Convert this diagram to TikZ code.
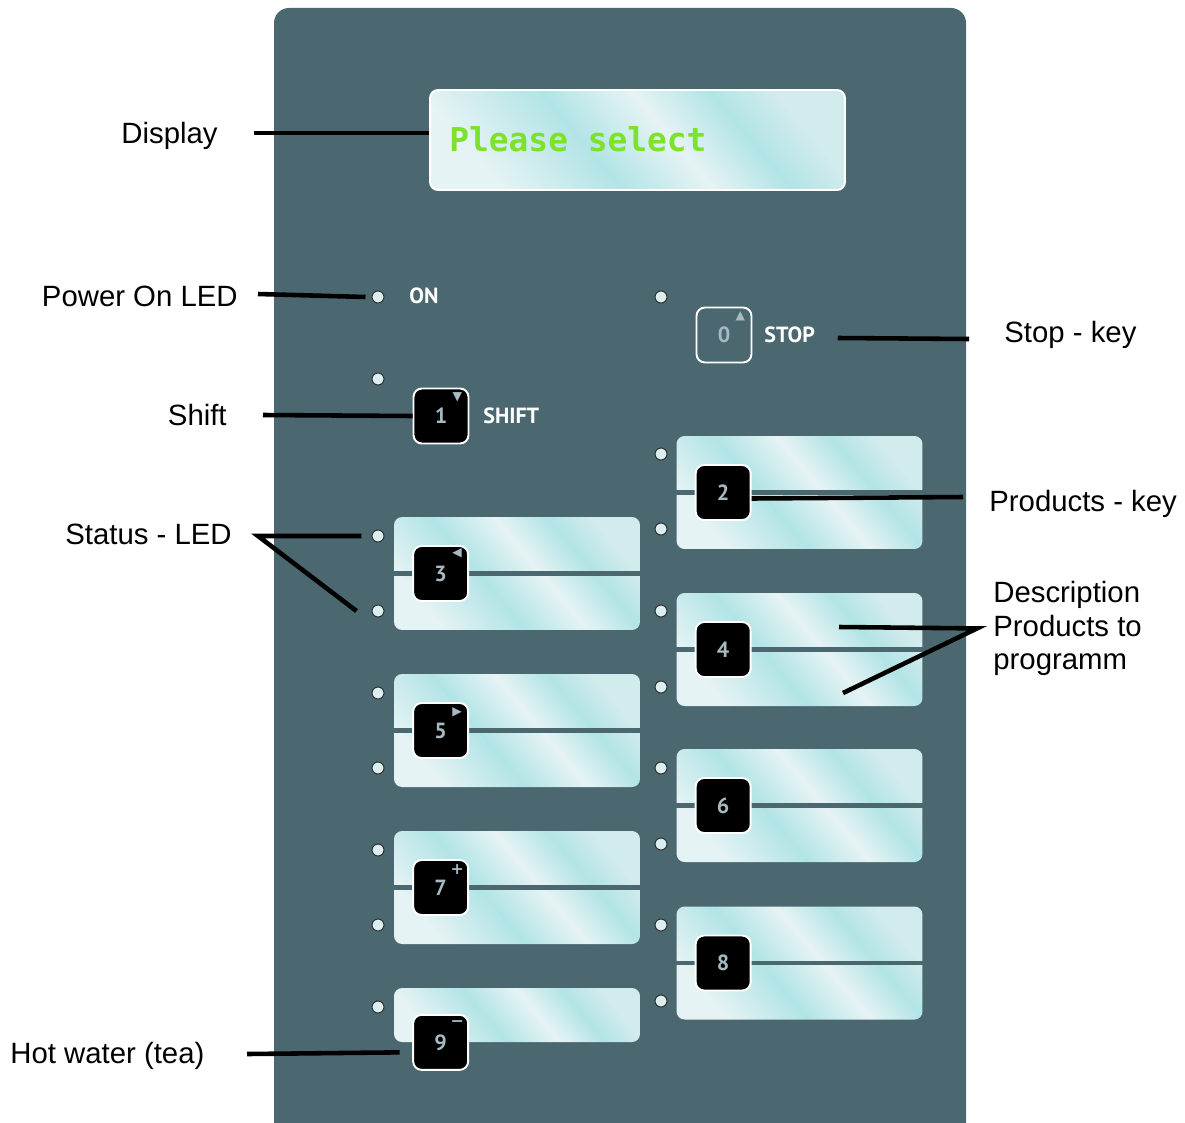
\documentclass[tikz,border=0pt]{standalone}
\usepackage{fontspec}
\setmainfont{Liberation Sans}
\newfontfamily\lcdfont{DejaVu Sans Mono}
\newfontfamily\keyfont{PT Sans}
\newfontfamily\symfont{DejaVu Sans}
\usetikzlibrary{positioning, calc}

\definecolor{panel}{HTML}{4B6870}
\definecolor{glassA}{HTML}{B2E4E6}
\definecolor{glassB}{HTML}{E6F3F4}
\definecolor{glassC}{HTML}{D2EBED}
\definecolor{lcdgreen}{HTML}{7DE22B}
\definecolor{keygrey}{HTML}{A7B9C1}
\definecolor{ledfill}{HTML}{DCEFF0}

\pgfdeclarehorizontalshading{glass}{100bp}{color(0bp)=(glassB); color(25bp)=(glassB);
  color(42bp)=(glassA); color(55bp)=(glassB); color(66bp)=(glassA);
  color(75bp)=(glassC); color(100bp)=(glassC)}

\begin{document}
\begin{tikzpicture}[x=0.02cm, y=-0.02cm,
  lbl/.style={font=\fontsize{16.7}{19}\selectfont, inner sep=0pt},
  leader/.style={line width=2.6pt, black},
  strip/.style={shade, shading=glass, shading angle=40, rounded corners=0.16cm,
                minimum width=4.92cm, minimum height=2.26cm, inner sep=0pt},
  divider/.style={line width=2.8pt, panel},
  key/.style={draw=white, line width=1.1pt, fill=black, rounded corners=0.17cm,
              minimum size=1.1cm, inner sep=0pt, text=keygrey,
              font=\keyfont\bfseries\fontsize{12.5}{12.5}\selectfont},
  keymark/.style={text=keygrey, font=\symfont\fontsize{7}{7}\selectfont, inner sep=0pt},
  led/.style={circle, draw=black!80, line width=0.6pt, fill=ledfill,
              minimum size=0.24cm, inner sep=0pt},
  tag/.style={text=white, font=\keyfont\bfseries\fontsize{12.5}{12.5}\selectfont, inner sep=0pt}
]
\useasboundingbox (0,0) rectangle (1185,1122);
\clip (0,0) rectangle (1185,1122);

% front panel and display
\fill[panel, rounded corners=0.3cm] (274,8) rectangle (966,1160);
\node[strip, draw=white, line width=1.1pt, minimum width=8.3cm, minimum height=2cm]
  (display) at (637.5,140) {};
\node[anchor=base west, inner sep=0pt, text=lcdgreen,
      font=\lcdfont\bfseries\fontsize{18.7}{18.7}\selectfont] (lcdtext) at (449,151) {Please select};

% leds
\foreach \y [count=\i] in {297,379,536,611,693,768,850,925,1007}
  \node[led] (ledL\i) at (378,\y) {};
\foreach \y [count=\i] in {297,454,529,611,687,768,844,925,1001}
  \node[led] (ledR\i) at (661,\y) {};

% product strips with their keys
\foreach \n/\y in {3/573.5,5/730.5,7/887.5}
  \node[strip] (strip\n) at (517,\y) {};
\node[strip, minimum height=1.08cm] (strip9) at (517,1015) {};
\foreach \n/\y in {2/492.5,4/649.5,6/805.5,8/963}
  \node[strip] (strip\n) at (799.5,\y) {};
\foreach \n in {2,...,8}
  \draw[divider] (strip\n.west) -- (strip\n.east);
\foreach \n in {2,...,8}
  \node[key] (key\n) at ([xshift=0.94cm]strip\n.west) {\n};
\node[key] (key9) at ([xshift=0.94cm]strip9.south west) {9};
\node[key] (key1) at (441,416) {1};
\node[key, fill=panel] (key0) at (724,335) {0};

% small marks on the keys
\node[keymark] at ([xshift=-0.24cm,yshift=-0.19cm]key0.north east) {▲};
\node[keymark] at ([xshift=-0.24cm,yshift=-0.2cm]key1.north east) {▼};
\node[keymark] at ([xshift=-0.24cm,yshift=-0.17cm]key3.north east) {◀};
\node[keymark] at ([xshift=-0.24cm,yshift=-0.2cm]key5.north east) {▶};
\node[keymark, font=\symfont\bfseries\fontsize{9}{9}\selectfont] at ([xshift=-0.24cm,yshift=-0.2cm]key7.north east) {+};
\node[keymark, font=\symfont\bfseries\fontsize{9}{9}\selectfont] at ([xshift=-0.24cm,yshift=-0.2cm]key9.north east) {−};

\node[tag, anchor=west] (ontag) at (409,296) {ON};
\node[tag, anchor=west] (shifttag) at (483,416) {SHIFT};
\node[tag, anchor=west] (stoptag) at (764,335) {STOP};

% labels
\node[lbl, anchor=base east] (lbldisplay) at (218,143) {Display};
\node[lbl, anchor=base east] (lblpower) at (238,306) {Power On LED};
\node[lbl, anchor=base east] (lblshift) at (227,425) {Shift};
\node[lbl, anchor=base east] (lblstatus) at (232,544) {Status - LED};
\node[lbl, anchor=base west] (lblwater) at (10,1063) {Hot water (tea)};
\node[lbl, anchor=base west] (lblstop) at (1004,342) {Stop - key};
\node[lbl, anchor=base west] (lblprod) at (989,511) {Products - key};
\node[lbl, anchor=north west, align=left] (lbldesc) at (993,581) {Description\\Products to\\programm};

% leader lines
\coordinate (dispfrom) at (254,133);
\coordinate (powfrom) at (258,294);
\coordinate (shiftfrom) at (263,415);
\coordinate (statfrom) at (258,536);
\coordinate (waterfrom) at (247,1054);
\coordinate (stopto) at (969,339);
\coordinate (prodto) at (963,497);
\coordinate (descfrom) at ([xshift=-0.32cm]lbldesc.west);
\coordinate (descA) at (839,627);
\coordinate (descB) at (843,693);

\draw[leader] (dispfrom) -- (dispfrom -| display.west);
\draw[leader] (powfrom) -- ([xshift=-0.12cm]ledL1.west);
\draw[leader] (shiftfrom) -- (key1.west);
\draw[leader] ([xshift=-0.2cm]ledL3.west) -- (statfrom) -- ([xshift=-0.3cm]ledL4.west);
\draw[leader] (waterfrom) -- ([xshift=-0.25cm,yshift=-0.2cm]key9.west);
\draw[leader] ([xshift=0.45cm,yshift=-0.06cm]stoptag.east) -- (stopto);
\draw[leader] ([yshift=-0.12cm]key2.east) -- (prodto);
\draw[leader] (descA) -- (descfrom) -- (descB);
\end{tikzpicture}
\end{document}
